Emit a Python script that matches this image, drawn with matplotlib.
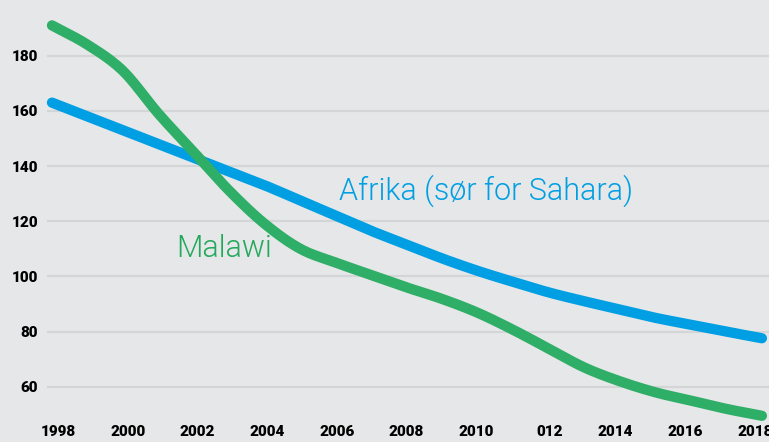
import numpy as np
import matplotlib
matplotlib.use("Agg")
import matplotlib.pyplot as plt
from matplotlib.transforms import blended_transform_factory

# data (per year)
years = list(range(1998, 2019))
afrika = [163, 158, 153, 148, 143, 138, 133, 127.5, 122, 116.5, 111.5,
          106.5, 102, 98, 94.2, 91, 88, 85, 82.5, 80, 77.6]
malawi = [191, 184, 174.5, 159, 145, 131, 119, 110, 105, 100.5, 96,
          91.8, 86.8, 80.6, 73.8, 67, 62, 58, 55, 52, 49.5]

yticks = [60, 80, 100, 120, 140, 160, 180]
xtick_pos = list(range(1998, 2019, 2))
xtick_lab = ["1998", "2000", "2002", "2004", "2006", "2008", "2010",
             "012", "2014", "2016", "2018"]

BG = "#e6e7e8"
GRID = "#d4d5d7"
BLUE = "#009fe3"
GREEN = "#2eae66"


def glatt(x, y, n=12):
    """catmull-rom bare for tegning, saa linjen blir myk."""
    x = np.asarray(x, float); y = np.asarray(y, float)
    P = np.column_stack([x, y])
    P = np.vstack([2 * P[0] - P[1], P, 2 * P[-1] - P[-2]])
    out = []
    t = np.linspace(0, 1, n, endpoint=False)[:, None]
    for i in range(1, len(P) - 2):
        p0, p1, p2, p3 = P[i - 1], P[i], P[i + 1], P[i + 2]
        seg = 0.5 * ((2 * p1) + (-p0 + p2) * t
                     + (2 * p0 - 5 * p1 + 4 * p2 - p3) * t ** 2
                     + (-p0 + 3 * p1 - 3 * p2 + p3) * t ** 3)
        out.append(seg)
    out.append(P[-2][None, :])
    out = np.vstack(out)
    return out[:, 0], out[:, 1]


W, H = 769, 442
fig = plt.figure(figsize=(W / 100, H / 100), dpi=100, facecolor=BG)
ax = fig.add_axes([47 / W, 0, 1 - 47 / W, 1], facecolor=BG)

ax.set_xlim(1997.86, 2018.2)
ax.set_ylim(40, 200.2)

for v in yticks:
    ax.axhline(v, color=GRID, lw=1.6, zorder=0)

ax.plot(*glatt(years, afrika), color=BLUE, lw=7.4, solid_capstyle="round",
        solid_joinstyle="round", clip_on=False, zorder=3)
ax.plot(*glatt(years, malawi), color=GREEN, lw=7.4, solid_capstyle="round",
        solid_joinstyle="round", clip_on=False, zorder=4)

ax.set_yticks(yticks)
ax.set_yticklabels([str(v) for v in yticks], fontfamily="Roboto",
                   fontweight="black", fontsize=11)
ax.tick_params(axis="y", length=0, pad=6.5)
ax.set_xticks([])
for s in ax.spines.values():
    s.set_visible(False)

tr = blended_transform_factory(ax.transData, ax.transAxes)
for xp, lab in zip(xtick_pos, xtick_lab):
    dx = 0.18 - 0.019 * (xp - 1998)
    if lab == "012":
        dx += 0.1
    ax.text(xp + dx, 10 / H, lab, transform=tr, ha="center", va="center",
            fontfamily="Roboto", fontweight="black", fontsize=11)

ax.text(2006.1, 127.7, "Afrika (sør for Sahara)", color=BLUE,
        fontfamily="Roboto", fontweight=300, fontsize=22,
        ha="left", va="baseline")
ax.text(2001.5, 107, "Malawi", color="#22a95c",
        fontfamily="Roboto", fontweight=300, fontsize=22,
        ha="left", va="baseline")

fig.savefig("out.png", dpi=100, facecolor=BG)
